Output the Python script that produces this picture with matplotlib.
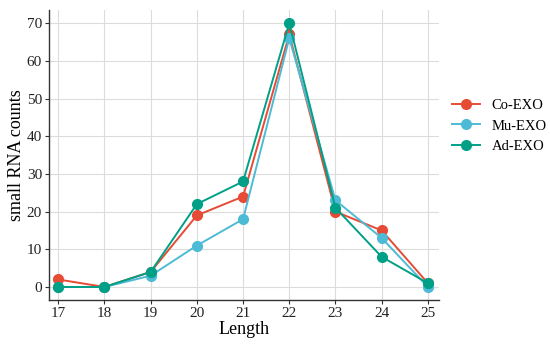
import numpy as np
import matplotlib.pyplot as plt

plt.rcParams['font.family'] = ['Liberation Serif', 'DejaVu Serif']

lengths = [17, 18, 19, 20, 21, 22, 23, 24, 25]
co_exo = [2, 0, 4, 19, 24, 67, 20, 15, 1]
mu_exo = [0, 0, 3, 11, 18, 66, 23, 13, 0]
ad_exo = [0, 0, 4, 22, 28, 70, 21, 8, 1]

series = [('Co-EXO', co_exo, '#E64B35'),
          ('Mu-EXO', mu_exo, '#4DBBD5'),
          ('Ad-EXO', ad_exo, '#00A087')]

fig = plt.figure(figsize=(5.5, 3.46), dpi=100)
ax = fig.add_axes([49 / 550, 46 / 346, 390 / 550, 290 / 346])

for name, vals, col in series:
    ax.plot(lengths, vals, color=col, lw=1.4, marker='o', ms=7, label=name)

ax.set_xlim(16.8, 25.24)
ax.set_ylim(-3.45, 73.5)
ax.set_xticks(lengths)
ax.set_yticks(np.arange(0, 71, 10))
ax.grid(True, color='#dcdcdc', lw=0.8)
ax.set_axisbelow(True)
for s in ['top', 'right']:
    ax.spines[s].set_visible(False)
for s in ['left', 'bottom']:
    ax.spines[s].set_color('#333333')
    ax.spines[s].set_linewidth(1.0)
ax.tick_params(labelsize=11, length=3, pad=2, color='#333333', labelcolor='#222222')
ax.set_xlabel('Length', fontsize=13, labelpad=1)
ax.set_ylabel('small RNA counts', fontsize=13, labelpad=1)

ax.legend(loc='center left', bbox_to_anchor=(1.0, 0.6), borderaxespad=0.5,
          frameon=False, fontsize=10.5, handlelength=1.9, handletextpad=0.8,
          labelspacing=0.5)

plt.savefig('out.png', dpi=100)
